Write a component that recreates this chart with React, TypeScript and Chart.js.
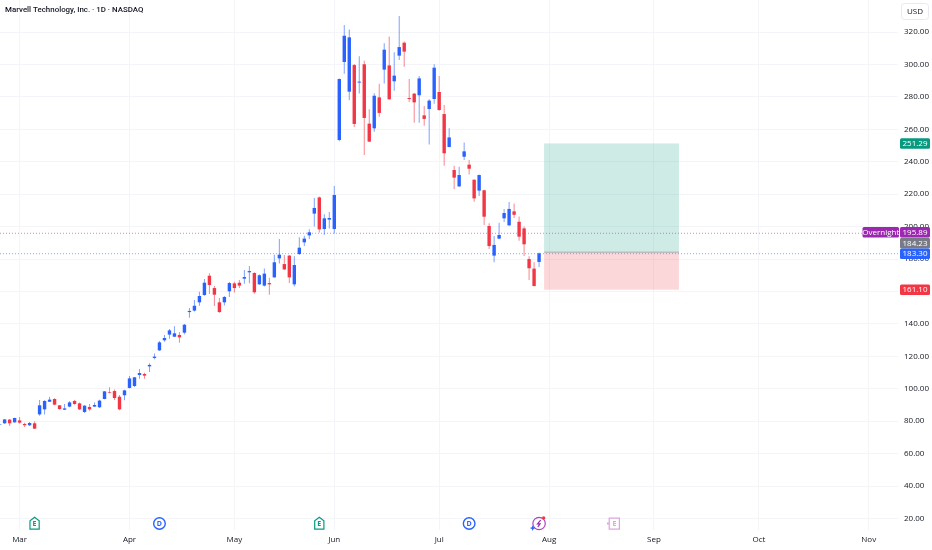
import React, { useEffect, useRef } from "react";
import Chart from "chart.js/auto";

const title = "Marvell Technology, Inc. · 1D · NASDAQ";
const firstSession = -4;
const opens = [77.9,78.7,81.0,79.3,80.5,78.3,77.5,78.7,84.2,87.3,92.0,93.7,89.8,87.1,89.0,92.5,91.0,85.7,88.8,89.0,88.6,93.7,98.0,98.6,95.1,96.0,100.5,101.7,108.5,109.1,113.8,119.0,123.7,129.9,133.4,132.1,133.2,134.6,147.3,148.2,153.3,157.8,169.7,162.1,153.3,153.3,160.1,165.0,165.4,167.9,171.8,171.4,164.4,163.6,165.2,168.7,180.4,176.9,182.1,164.4,183.1,190.3,194.6,208.0,218.0,198.5,204.3,198.5,253.4,301.5,283.2,299.6,288.8,300.1,263.5,260.6,279.7,296.8,299.4,289.6,305.4,313.4,279.3,282.0,281.0,268.6,272.5,278.7,283.0,269.4,249.1,234.9,224.8,243.1,238.2,228.9,222.2,222.4,200.4,182.1,192.6,205.1,200.8,209.4,203.0,198.9,180.0,174.1,178.2];
const closes = [78.3,81.1,78.7,82.0,79.1,77.5,78.9,75.4,89.8,92.5,93.3,90.2,87.5,87.9,91.6,90.6,87.3,89.6,87.3,90.0,92.7,98.4,97.6,94.3,87.3,99.0,106.4,107.1,109.7,108.1,114.7,119.8,128.6,131.3,136.0,134.2,131.7,139.5,148.0,151.2,157.2,165.4,164.0,158.0,147.3,156.6,165.2,162.1,163.6,168.9,172.6,159.5,170.0,171.0,164.4,178.0,182.7,173.6,168.7,176.3,187.0,192.6,196.5,211.5,198.3,205.1,205.3,219.5,291.0,317.7,316.7,263.3,289.4,267.0,252.4,280.7,270.1,309.1,278.5,293.1,310.7,307.9,278.7,276.6,291.4,266.4,277.7,298.0,271.9,245.2,255.0,230.2,231.8,246.4,235.7,217.4,231.8,206.1,188.0,188.7,194.8,208.4,210.9,207.3,193.8,189.1,174.3,163.4,183.5];
const highs = [78.3,81.4,81.4,82.2,82.6,79.1,79.5,79.9,93.1,92.9,95.1,94.1,90.0,90.6,92.3,93.1,91.6,89.8,90.6,91.6,93.3,98.6,100.9,99.6,96.2,99.4,107.9,107.3,112.2,109.9,115.7,121.8,129.5,133.2,136.9,138.5,135.0,139.9,149.8,154.7,159.9,167.7,171.2,163.4,156.0,157.2,165.8,166.0,167.1,173.2,175.7,171.8,170.6,174.1,168.5,182.7,192.4,182.5,182.5,181.7,193.4,194.4,198.3,217.6,218.5,207.6,209.0,225.0,291.4,324.3,321.6,300.3,305.0,302.3,272.3,282.2,288.1,313.0,317.3,307.5,329.9,314.2,291.0,282.4,292.9,274.4,278.5,300.1,292.9,275.0,260.6,237.6,236.9,251.8,241.1,229.2,232.2,222.8,202.0,194.2,202.4,210.9,215.2,214.3,206.3,200.0,181.7,178.0,184.1];
const lows = [77.7,78.5,77.0,79.1,78.5,76.4,77.0,75.2,83.4,84.2,91.8,89.8,87.1,86.9,88.6,90.2,86.9,85.1,86.5,88.8,88.1,93.5,97.2,93.1,86.7,92.9,100.1,101.1,106.2,106.2,110.3,118.2,123.3,129.0,130.9,131.9,128.4,133.6,143.8,147.7,151.2,157.4,158.4,151.0,146.9,151.4,156.6,159.3,162.1,164.8,165.0,158.6,164.0,163.0,158.0,168.5,177.3,173.2,165.2,163.0,182.5,188.0,192.4,200.0,196.3,195.0,198.9,195.8,252.6,294.3,277.9,261.4,282.0,244.2,252.2,258.5,267.8,288.3,278.3,283.8,302.7,298.6,276.8,264.1,264.1,262.2,250.7,275.8,271.5,237.6,248.9,223.2,224.4,241.1,232.2,215.4,218.9,201.0,186.2,178.0,192.2,202.8,200.4,205.3,191.3,181.9,167.1,163.0,175.1];

const priceTicks = [20,40,60,80,100,120,140,160,180,200,220,240,260,280,300,320];
const monthLabels = ["Mar","Apr","May","Jun","Jul","Aug","Sep","Oct","Nov"];
const monthSessions = [0,22,43,63,84,106,127,148,170];

const entryPrice = 184.23;
const targetPrice = 251.29;
const stopPrice = 161.1;
const overnightPrice = 195.89;
const lastPrice = 183.3;
const positionStart = 105;
const positionEnd = 132;
const events = [
  { session: 3, kind: "earnings" },
  { session: 28, kind: "dividend" },
  { session: 60, kind: "earnings" },
  { session: 90, kind: "dividend" },
  { session: 104, kind: "flash" },
  { session: 119, kind: "future" },
];

const BLUE = "#2962FF";
const RED = "#F23645";
const GREEN = "#089981";
const PURPLE = "#9C27B0";
const GREY = "#787B86";
const INK = "#131722";
const GRID = "#F4F5F9";
const FONT = "'Open Sans', sans-serif";

const W = 932;
const H = 550;
const RIGHT = 898;
const BOTTOM = 530;
const STEP = 4.995;
const X0 = 19.6;
const YPX = 1.6217;
const xMin = -X0 / STEP;
const xMax = (RIGHT - X0) / STEP;
const yMax = 320 + 32 / YPX;
const yMin = 320 - (BOTTOM - 32) / YPX;

const sessions = opens.map((_, i) => i + firstSession);
const isUp = opens.map((o, i) => closes[i] >= o);

function badge(ctx: any, x: number, y: number, w: number, h: number, fill: string, text: string) {
  ctx.fillStyle = fill;
  ctx.beginPath();
  ctx.roundRect(x, y, w, h, 1.5);
  ctx.fill();
  ctx.fillStyle = "#fff";
  ctx.font = `8px ${FONT}`;
  ctx.textAlign = "center";
  ctx.textBaseline = "middle";
  ctx.fillText(text, x + w / 2, y + h / 2 + 0.5);
}

function drawEvent(ctx: any, x: number, kind: string) {
  const y = 523.5;
  ctx.save();
  ctx.lineWidth = 1.2;
  ctx.textAlign = "center";
  ctx.textBaseline = "middle";
  if (kind === "earnings") {
    ctx.strokeStyle = GREEN;
    ctx.beginPath();
    ctx.moveTo(x - 4.6, y + 5.6);
    ctx.lineTo(x + 4.6, y + 5.6);
    ctx.lineTo(x + 4.6, y - 2.8);
    ctx.lineTo(x, y - 6.2);
    ctx.lineTo(x - 4.6, y - 2.8);
    ctx.closePath();
    ctx.stroke();
    ctx.fillStyle = GREEN;
    ctx.font = `bold 7px ${FONT}`;
    ctx.fillText("E", x, y + 0.8);
  } else if (kind === "dividend") {
    ctx.strokeStyle = BLUE;
    ctx.lineWidth = 1.4;
    ctx.beginPath();
    ctx.arc(x, y, 5.8, 0, Math.PI * 2);
    ctx.stroke();
    ctx.fillStyle = BLUE;
    ctx.font = `bold 7px ${FONT}`;
    ctx.fillText("D", x, y + 0.5);
  } else if (kind === "flash") {
    ctx.strokeStyle = PURPLE;
    ctx.lineWidth = 1.2;
    ctx.globalAlpha = 0.85;
    ctx.beginPath();
    ctx.arc(x, y, 6.2, 0, Math.PI * 2);
    ctx.stroke();
    ctx.globalAlpha = 1;
    ctx.beginPath();
    ctx.moveTo(x + 1.6, y - 3.4);
    ctx.lineTo(x - 1.6, y + 0.4);
    ctx.lineTo(x + 1, y + 0.4);
    ctx.lineTo(x - 1.2, y + 3.4);
    ctx.stroke();
    ctx.fillStyle = RED;
    ctx.beginPath();
    ctx.arc(x + 4.6, y - 5.6, 1.7, 0, Math.PI * 2);
    ctx.fill();
    ctx.fillStyle = BLUE;
    ctx.beginPath();
    const sx = x - 6.4;
    const sy = y + 4.6;
    ctx.moveTo(sx, sy - 2.8);
    ctx.lineTo(sx + 0.8, sy - 0.8);
    ctx.lineTo(sx + 2.8, sy);
    ctx.lineTo(sx + 0.8, sy + 0.8);
    ctx.lineTo(sx, sy + 2.8);
    ctx.lineTo(sx - 0.8, sy + 0.8);
    ctx.lineTo(sx - 2.8, sy);
    ctx.lineTo(sx - 0.8, sy - 0.8);
    ctx.closePath();
    ctx.fill();
  } else {
    const pink = "#DFA3DD";
    ctx.strokeStyle = pink;
    ctx.strokeRect(x - 4.8, y - 5.4, 10.2, 11);
    ctx.fillStyle = pink;
    ctx.fillRect(x - 7, y - 1, 1.8, 2);
    ctx.font = `bold 7px ${FONT}`;
    ctx.fillText("E", x + 0.4, y + 0.5);
  }
  ctx.restore();
}

const overlay = {
  id: "overlay",
  beforeDatasetsDraw(chart: any) {
    const { ctx, scales } = chart;
    const sx = scales.x;
    const sy = scales.y;
    const l = sx.getPixelForValue(positionStart);
    const r = sx.getPixelForValue(positionEnd);
    const t = sy.getPixelForValue(targetPrice);
    const e = sy.getPixelForValue(entryPrice);
    const s = sy.getPixelForValue(stopPrice);
    ctx.save();
    ctx.fillStyle = "rgba(8,153,129,0.2)";
    ctx.fillRect(l, t, r - l, e - t);
    ctx.fillStyle = "rgba(242,54,69,0.2)";
    ctx.fillRect(l, e, r - l, s - e);
    ctx.strokeStyle = "#A8ACB2";
    ctx.lineWidth = 1;
    ctx.beginPath();
    ctx.moveTo(l, e);
    ctx.lineTo(r, e);
    ctx.stroke();
    ctx.restore();
  },
  afterDraw(chart: any) {
    const { ctx, scales } = chart;
    const sy = scales.y;
    const sx = scales.x;
    ctx.save();
    ctx.fillStyle = INK;
    ctx.font = `500 7.9px Roboto, sans-serif`;
    ctx.textAlign = "left";
    ctx.textBaseline = "middle";
    ctx.fillText(title, 5, 10.5);

    ctx.fillStyle = "#fff";
    ctx.strokeStyle = "#E8EAEF";
    ctx.lineWidth = 1;
    ctx.beginPath();
    ctx.roundRect(901.5, 3.5, 27, 16, 3);
    ctx.fill();
    ctx.stroke();
    ctx.fillStyle = INK;
    ctx.font = `8px ${FONT}`;
    ctx.textAlign = "center";
    ctx.fillText("USD", 915, 11.5);

    const bx = 900;
    const bw = 30;
    const bh = 10.6;
    badge(ctx, bx, sy.getPixelForValue(targetPrice) - bh / 2, bw, bh, GREEN, targetPrice.toFixed(2));
    badge(ctx, 862.5, 227, 36.5, bh, PURPLE, "Overnight");
    badge(ctx, bx, 227, bw, bh, PURPLE, overnightPrice.toFixed(2));
    badge(ctx, bx, 237.8, bw, bh, GREY, entryPrice.toFixed(2));
    badge(ctx, bx, sy.getPixelForValue(lastPrice) - bh / 2, bw, bh, BLUE, lastPrice.toFixed(2));
    badge(ctx, bx, sy.getPixelForValue(stopPrice) - bh / 2, bw, bh, RED, stopPrice.toFixed(2));

    events.forEach((ev) => drawEvent(ctx, sx.getPixelForValue(ev.session), ev.kind));
    ctx.restore();
  },
};

export default function App() {
  const ref = useRef<HTMLCanvasElement | null>(null);
  useEffect(() => {
    document.body.style.margin = "0";
    const chart = new Chart(ref.current as HTMLCanvasElement, {
      type: "bar",
      data: {
        datasets: [
          {
            type: "bar",
            label: "Body",
            data: sessions.map((x, i) => ({ x, y: [opens[i], closes[i]] })),
            backgroundColor: isUp.map((u) => (u ? BLUE : RED)),
            barThickness: 3.4,
            grouped: false,
            inflateAmount: 0,
          },
          {
            type: "bar",
            label: "Wick",
            data: sessions.map((x, i) => ({ x, y: [lows[i], highs[i]] })),
            backgroundColor: isUp.map((u) => (u ? "rgba(41,98,255,0.6)" : "rgba(242,54,69,0.6)")),
            barThickness: 1,
            grouped: false,
            inflateAmount: 0,
          },
          {
            type: "line",
            label: "Overnight",
            data: [{ x: xMin, y: overnightPrice }, { x: 168.6, y: overnightPrice }],
            borderColor: "rgba(156,39,176,0.55)",
            borderWidth: 1,
            borderDash: [1, 2],
            pointRadius: 0,
          },
          {
            type: "line",
            label: "Last",
            data: [{ x: xMin, y: lastPrice }, { x: xMax, y: lastPrice }],
            borderColor: "rgba(41,98,255,0.55)",
            borderWidth: 1,
            borderDash: [1, 2],
            pointRadius: 0,
          },
        ],
      } as any,
      options: {
        responsive: false,
        animation: false,
        devicePixelRatio: 1,
        layout: { padding: 0 },
        plugins: { legend: { display: false }, tooltip: { enabled: false }, title: { display: false } },
        scales: {
          x: {
            type: "linear",
            offset: false,
            min: xMin,
            max: xMax,
            grid: { color: GRID, drawTicks: false, offset: false },
            border: { display: false },
            afterBuildTicks: (scale: any) => {
              scale.ticks = monthSessions.map((value) => ({ value }));
            },
            afterFit: (scale: any) => {
              scale.height = H - BOTTOM;
              scale.paddingLeft = 0;
              scale.paddingRight = 0;
            },
            ticks: {
              autoSkip: false,
              maxRotation: 0,
              padding: 5,
              color: INK,
              font: { family: FONT, size: 8 },
              callback: (v: any) => monthLabels[monthSessions.indexOf(Number(v))] ?? "",
            },
          },
          y: {
            type: "linear",
            position: "right",
            min: yMin,
            max: yMax,
            grid: { color: GRID, drawTicks: false },
            border: { display: false },
            afterBuildTicks: (scale: any) => {
              scale.ticks = priceTicks.map((value) => ({ value }));
            },
            afterFit: (scale: any) => {
              scale.width = W - RIGHT;
              scale.paddingTop = 0;
              scale.paddingBottom = 0;
            },
            ticks: {
              padding: 6,
              color: INK,
              font: { family: FONT, size: 8 },
              callback: (v: any) => Number(v).toFixed(2),
            },
          },
        },
      } as any,
      plugins: [overlay],
    });
    return () => chart.destroy();
  }, []);
  return (
    <div style={{ width: W, height: H, background: "#fff" }}>
      <canvas ref={ref} width={W} height={H} style={{ display: "block" }} />
    </div>
  );
}
